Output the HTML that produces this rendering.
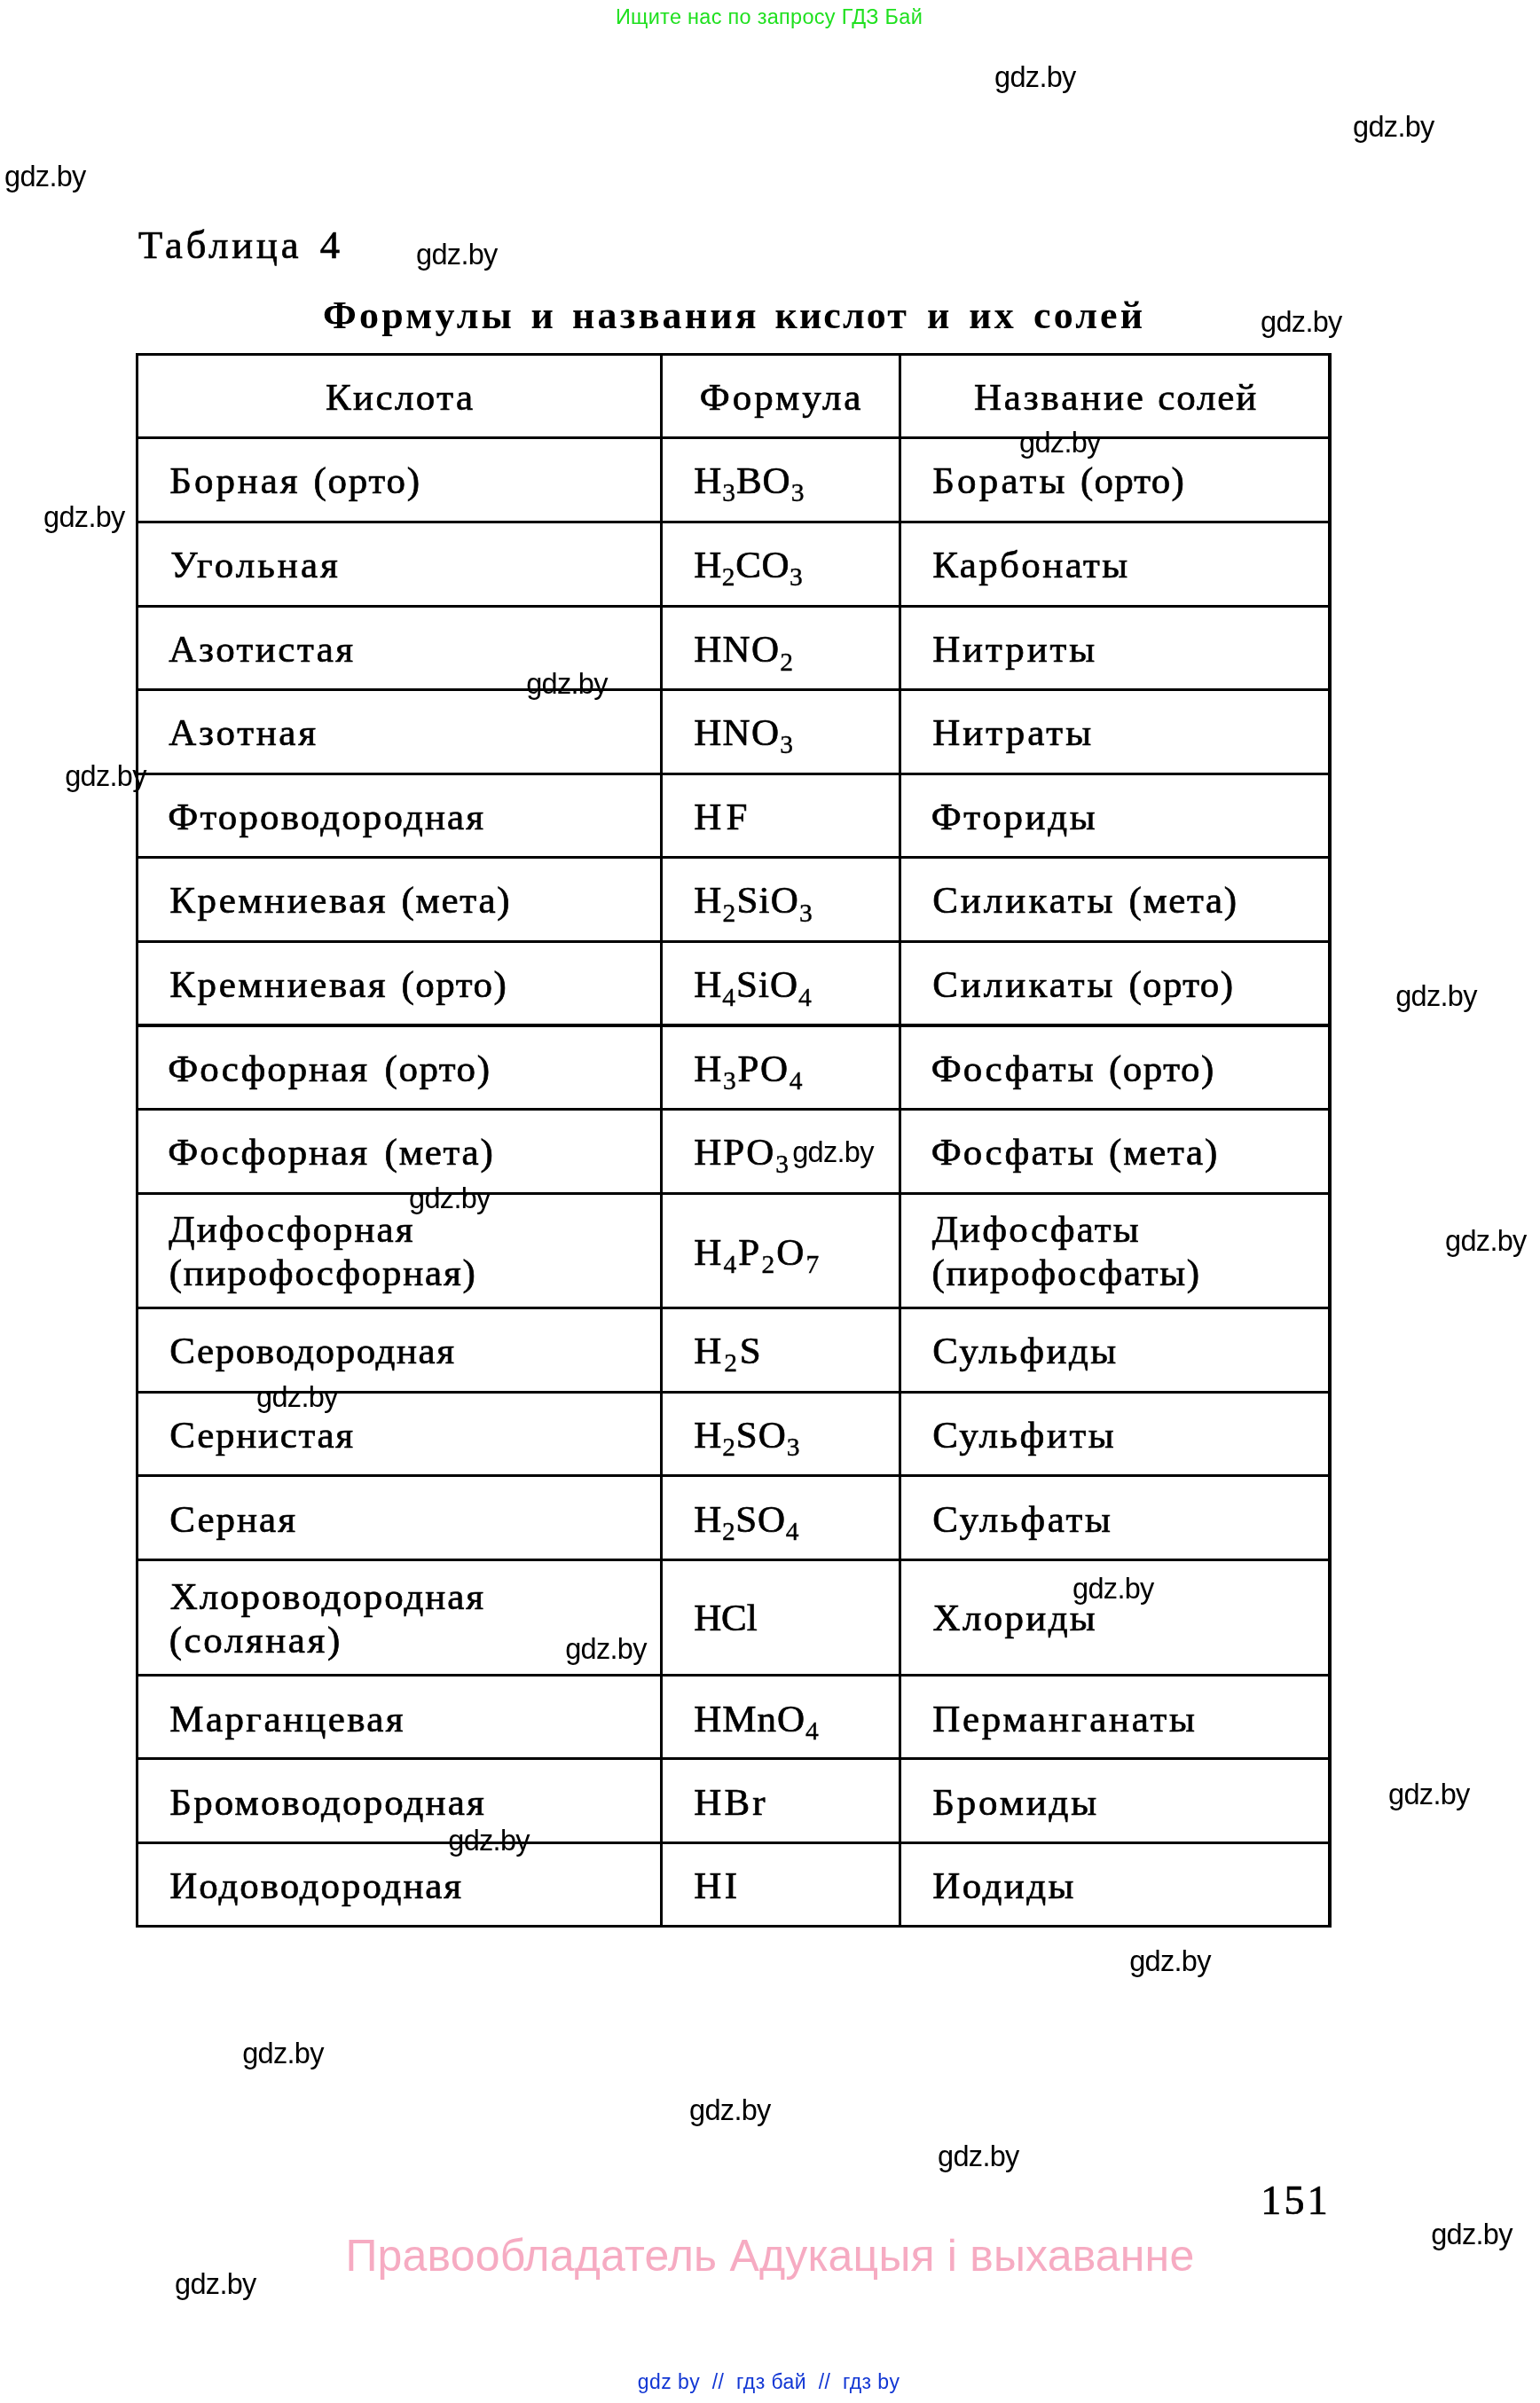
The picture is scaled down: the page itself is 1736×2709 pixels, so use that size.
<!DOCTYPE html>
<html lang="ru"><head><meta charset="utf-8"><title>Таблица 4</title>
<style>
html,body{margin:0;padding:0;background:#fff;}
body{width:1736px;height:2709px;position:relative;overflow:hidden;font-family:"Liberation Serif", serif;}
.t{position:absolute;white-space:pre;height:80px;line-height:80px;margin:0;padding:0;-webkit-text-stroke:0.7px #000;}
#tx{position:absolute;left:0;top:0;width:1736px;height:2709px;will-change:transform;}
.s{font-size:29.5px;position:relative;top:9.3px;line-height:0;-webkit-text-stroke:0.4px #000;}
.ln{position:absolute;background:#000;}
.sans{font-family:"Liberation Sans", sans-serif;-webkit-text-stroke:0;}
</style></head><body>
<div class="ln" style="left:153px;top:398px;width:1348px;height:3px"></div>
<div class="ln" style="left:153px;top:492px;width:1348px;height:3px"></div>
<div class="ln" style="left:153px;top:587px;width:1348px;height:3px"></div>
<div class="ln" style="left:153px;top:682px;width:1348px;height:3px"></div>
<div class="ln" style="left:153px;top:776px;width:1348px;height:3px"></div>
<div class="ln" style="left:153px;top:871px;width:1348px;height:3px"></div>
<div class="ln" style="left:153px;top:965px;width:1348px;height:3px"></div>
<div class="ln" style="left:153px;top:1060px;width:1348px;height:3px"></div>
<div class="ln" style="left:153px;top:1154px;width:1348px;height:4px"></div>
<div class="ln" style="left:153px;top:1249px;width:1348px;height:3px"></div>
<div class="ln" style="left:153px;top:1344px;width:1348px;height:3px"></div>
<div class="ln" style="left:153px;top:1473px;width:1348px;height:3px"></div>
<div class="ln" style="left:153px;top:1568px;width:1348px;height:3px"></div>
<div class="ln" style="left:153px;top:1662px;width:1348px;height:3px"></div>
<div class="ln" style="left:153px;top:1757px;width:1348px;height:3px"></div>
<div class="ln" style="left:153px;top:1887px;width:1348px;height:3px"></div>
<div class="ln" style="left:153px;top:1981px;width:1348px;height:3px"></div>
<div class="ln" style="left:153px;top:2076px;width:1348px;height:3px"></div>
<div class="ln" style="left:153px;top:2170px;width:1348px;height:3px"></div>
<div class="ln" style="left:153px;top:398px;width:3px;height:1775px"></div>
<div class="ln" style="left:744px;top:398px;width:3px;height:1775px"></div>
<div class="ln" style="left:1013px;top:398px;width:3px;height:1775px"></div>
<div class="ln" style="left:1497px;top:398px;width:4px;height:1775px"></div>
<div id="tx">
<div class="t sans" style="left:693.90px;top:-21.10px;font-size:23.5px;letter-spacing:0.284px;color:#1fe01f;">Ищите нас по запросу ГДЗ Бай</div>
<div class="t" style="left:156.05px;top:236.00px;font-size:44.5px;letter-spacing:3.918px;">Таблица</div>
<div class="t" style="left:360.65px;top:236.00px;font-size:44.5px;letter-spacing:0.000px;">4</div>
<div class="t" style="left:364.00px;top:315.70px;font-size:44px;letter-spacing:3.241px;font-weight:bold;-webkit-text-stroke:0;">Формулы</div>
<div class="t" style="left:598.40px;top:315.70px;font-size:44px;letter-spacing:0.000px;font-weight:bold;-webkit-text-stroke:0;">и</div>
<div class="t" style="left:645.10px;top:315.70px;font-size:44px;letter-spacing:3.172px;font-weight:bold;-webkit-text-stroke:0;">названия</div>
<div class="t" style="left:873.50px;top:315.70px;font-size:44px;letter-spacing:2.072px;font-weight:bold;-webkit-text-stroke:0;">кислот</div>
<div class="t" style="left:1045.10px;top:315.70px;font-size:44px;letter-spacing:0.000px;font-weight:bold;-webkit-text-stroke:0;">и</div>
<div class="t" style="left:1092.30px;top:315.70px;font-size:44px;letter-spacing:3.148px;font-weight:bold;-webkit-text-stroke:0;">их</div>
<div class="t" style="left:1165.00px;top:315.70px;font-size:44px;letter-spacing:3.159px;font-weight:bold;-webkit-text-stroke:0;">солей</div>
<div class="t" style="left:366.95px;top:408.00px;font-size:43px;letter-spacing:2.419px;">Кислота</div>
<div class="t" style="left:191.35px;top:501.90px;font-size:43px;letter-spacing:2.942px;">Борная</div>
<div class="t" style="left:353.55px;top:501.90px;font-size:43px;letter-spacing:1.725px;">(орто)</div>
<div class="t" style="left:192.35px;top:596.90px;font-size:43px;letter-spacing:3.053px;">Угольная</div>
<div class="t" style="left:190.35px;top:692.30px;font-size:43px;letter-spacing:2.499px;">Азотистая</div>
<div class="t" style="left:190.35px;top:786.20px;font-size:43px;letter-spacing:2.699px;">Азотная</div>
<div class="t" style="left:189.35px;top:881.20px;font-size:43px;letter-spacing:2.130px;">Фтороводородная</div>
<div class="t" style="left:191.35px;top:975.30px;font-size:43px;letter-spacing:2.566px;">Кремниевая</div>
<div class="t" style="left:452.45px;top:975.30px;font-size:43px;letter-spacing:1.756px;">(мета)</div>
<div class="t" style="left:191.35px;top:1070.30px;font-size:43px;letter-spacing:2.566px;">Кремниевая</div>
<div class="t" style="left:452.45px;top:1070.30px;font-size:43px;letter-spacing:1.505px;">(орто)</div>
<div class="t" style="left:189.35px;top:1164.50px;font-size:43px;letter-spacing:1.961px;">Фосфорная</div>
<div class="t" style="left:433.55px;top:1164.50px;font-size:43px;letter-spacing:1.525px;">(орто)</div>
<div class="t" style="left:189.35px;top:1259.00px;font-size:43px;letter-spacing:1.961px;">Фосфорная</div>
<div class="t" style="left:433.55px;top:1259.00px;font-size:43px;letter-spacing:1.776px;">(мета)</div>
<div class="t" style="left:190.35px;top:1346.40px;font-size:43px;letter-spacing:1.995px;">Дифосфорная</div>
<div class="t" style="left:190.65px;top:1395.00px;font-size:43px;letter-spacing:1.763px;">(пирофосфорная)</div>
<div class="t" style="left:191.35px;top:1483.20px;font-size:43px;letter-spacing:1.548px;">Сероводородная</div>
<div class="t" style="left:191.35px;top:1578.20px;font-size:43px;letter-spacing:1.712px;">Сернистая</div>
<div class="t" style="left:191.35px;top:1672.80px;font-size:43px;letter-spacing:1.982px;">Серная</div>
<div class="t" style="left:191.65px;top:1759.60px;font-size:43px;letter-spacing:1.943px;">Хлороводородная</div>
<div class="t" style="left:190.65px;top:1809.10px;font-size:43px;letter-spacing:2.606px;">(соляная)</div>
<div class="t" style="left:191.35px;top:1897.70px;font-size:43px;letter-spacing:2.403px;">Марганцевая</div>
<div class="t" style="left:191.35px;top:1991.50px;font-size:43px;letter-spacing:2.117px;">Бромоводородная</div>
<div class="t" style="left:191.35px;top:2085.90px;font-size:43px;letter-spacing:1.917px;">Иодоводородная</div>
<div class="t" style="left:788.85px;top:408.00px;font-size:43px;letter-spacing:2.983px;">Формула</div>
<div class="t" style="left:782.15px;top:501.90px;font-size:43px;letter-spacing:0.991px;">H<span class="s">3</span>BO<span class="s">3</span></div>
<div class="t" style="left:782.15px;top:596.90px;font-size:43px;letter-spacing:0.591px;">H<span class="s">2</span>CO<span class="s">3</span></div>
<div class="t" style="left:782.15px;top:692.30px;font-size:43px;letter-spacing:1.347px;">HNO<span class="s">2</span></div>
<div class="t" style="left:782.15px;top:786.20px;font-size:43px;letter-spacing:1.347px;">HNO<span class="s">3</span></div>
<div class="t" style="left:782.15px;top:881.20px;font-size:43px;letter-spacing:5.347px;">HF</div>
<div class="t" style="left:782.15px;top:975.30px;font-size:43px;letter-spacing:1.216px;">H<span class="s">2</span>SiO<span class="s">3</span></div>
<div class="t" style="left:782.15px;top:1070.30px;font-size:43px;letter-spacing:1.016px;">H<span class="s">4</span>SiO<span class="s">4</span></div>
<div class="t" style="left:782.15px;top:1164.50px;font-size:43px;letter-spacing:1.732px;">H<span class="s">3</span>PO<span class="s">4</span></div>
<div class="t" style="left:782.15px;top:1259.00px;font-size:43px;letter-spacing:2.060px;">HPO<span class="s">3</span></div>
<div class="t" style="left:782.15px;top:1371.50px;font-size:43px;letter-spacing:2.176px;">H<span class="s">4</span>P<span class="s">2</span>O<span class="s">7</span></div>
<div class="t" style="left:782.15px;top:1483.20px;font-size:43px;letter-spacing:2.948px;">H<span class="s">2</span>S</div>
<div class="t" style="left:782.15px;top:1578.20px;font-size:43px;letter-spacing:0.932px;">H<span class="s">2</span>SO<span class="s">3</span></div>
<div class="t" style="left:782.15px;top:1672.80px;font-size:43px;letter-spacing:0.682px;">H<span class="s">2</span>SO<span class="s">4</span></div>
<div class="t" style="left:782.15px;top:1783.70px;font-size:43px;letter-spacing:-0.117px;">HCl</div>
<div class="t" style="left:782.15px;top:1897.70px;font-size:43px;letter-spacing:1.015px;">HMnO<span class="s">4</span></div>
<div class="t" style="left:782.15px;top:1991.50px;font-size:43px;letter-spacing:3.233px;">HBr</div>
<div class="t" style="left:782.15px;top:2085.90px;font-size:43px;letter-spacing:3.447px;">HI</div>
<div class="t" style="left:1097.95px;top:408.00px;font-size:43px;letter-spacing:2.833px;">Название</div>
<div class="t" style="left:1305.25px;top:408.00px;font-size:43px;letter-spacing:1.859px;">солей</div>
<div class="t" style="left:1051.15px;top:501.90px;font-size:43px;letter-spacing:3.189px;">Бораты</div>
<div class="t" style="left:1217.95px;top:501.90px;font-size:43px;letter-spacing:1.225px;">(орто)</div>
<div class="t" style="left:1051.15px;top:596.90px;font-size:43px;letter-spacing:2.406px;">Карбонаты</div>
<div class="t" style="left:1051.15px;top:692.30px;font-size:43px;letter-spacing:2.903px;">Нитриты</div>
<div class="t" style="left:1051.15px;top:786.20px;font-size:43px;letter-spacing:3.059px;">Нитраты</div>
<div class="t" style="left:1049.65px;top:881.20px;font-size:43px;letter-spacing:2.686px;">Фториды</div>
<div class="t" style="left:1051.15px;top:975.30px;font-size:43px;letter-spacing:3.019px;">Силикаты</div>
<div class="t" style="left:1272.45px;top:975.30px;font-size:43px;letter-spacing:1.676px;">(мета)</div>
<div class="t" style="left:1051.15px;top:1070.30px;font-size:43px;letter-spacing:3.019px;">Силикаты</div>
<div class="t" style="left:1272.45px;top:1070.30px;font-size:43px;letter-spacing:1.365px;">(орто)</div>
<div class="t" style="left:1049.65px;top:1164.50px;font-size:43px;letter-spacing:2.204px;">Фосфаты</div>
<div class="t" style="left:1250.05px;top:1164.50px;font-size:43px;letter-spacing:1.485px;">(орто)</div>
<div class="t" style="left:1049.65px;top:1259.00px;font-size:43px;letter-spacing:2.204px;">Фосфаты</div>
<div class="t" style="left:1250.05px;top:1259.00px;font-size:43px;letter-spacing:1.776px;">(мета)</div>
<div class="t" style="left:1050.65px;top:1346.40px;font-size:43px;letter-spacing:2.136px;">Дифосфаты</div>
<div class="t" style="left:1050.55px;top:1395.00px;font-size:43px;letter-spacing:1.691px;">(пирофосфаты)</div>
<div class="t" style="left:1051.15px;top:1483.20px;font-size:43px;letter-spacing:2.437px;">Сульфиды</div>
<div class="t" style="left:1051.15px;top:1578.20px;font-size:43px;letter-spacing:2.521px;">Сульфиты</div>
<div class="t" style="left:1051.15px;top:1672.80px;font-size:43px;letter-spacing:2.698px;">Сульфаты</div>
<div class="t" style="left:1051.55px;top:1783.70px;font-size:43px;letter-spacing:2.317px;">Хлориды</div>
<div class="t" style="left:1051.15px;top:1897.70px;font-size:43px;letter-spacing:2.764px;">Перманганаты</div>
<div class="t" style="left:1051.15px;top:1991.50px;font-size:43px;letter-spacing:2.871px;">Бромиды</div>
<div class="t" style="left:1051.15px;top:2085.90px;font-size:43px;letter-spacing:2.464px;">Иодиды</div>
<div class="t" style="left:1421.15px;top:2440.80px;font-size:46px;letter-spacing:3.300px;">151</div>
<div class="t sans" style="left:389.50px;top:2502.80px;font-size:50px;letter-spacing:0.178px;color:#f6abc2;">Правообладатель Адукацыя і выхаванне</div>
<div class="t sans" style="left:718.80px;top:2644.70px;font-size:23px;letter-spacing:0.428px;color:#1237d4;">gdz by  //  гдз бай  //  гдз by</div>
<div class="t sans" style="left:1121.10px;top:47.00px;font-size:32.5px;letter-spacing:-0.701px;">gdz.by</div>
<div class="t sans" style="left:1525.10px;top:102.80px;font-size:32.5px;letter-spacing:-0.701px;">gdz.by</div>
<div class="t sans" style="left:5.10px;top:158.80px;font-size:32.5px;letter-spacing:-0.701px;">gdz.by</div>
<div class="t sans" style="left:469.10px;top:246.80px;font-size:32.5px;letter-spacing:-0.701px;">gdz.by</div>
<div class="t sans" style="left:1421.10px;top:322.80px;font-size:32.5px;letter-spacing:-0.701px;">gdz.by</div>
<div class="t sans" style="left:1149.10px;top:458.80px;font-size:32.5px;letter-spacing:-0.701px;">gdz.by</div>
<div class="t sans" style="left:49.10px;top:542.80px;font-size:32.5px;letter-spacing:-0.701px;">gdz.by</div>
<div class="t sans" style="left:593.20px;top:730.80px;font-size:32.5px;letter-spacing:-0.701px;">gdz.by</div>
<div class="t sans" style="left:73.20px;top:834.80px;font-size:32.5px;letter-spacing:-0.701px;">gdz.by</div>
<div class="t sans" style="left:1573.20px;top:1082.80px;font-size:32.5px;letter-spacing:-0.701px;">gdz.by</div>
<div class="t sans" style="left:893.20px;top:1258.80px;font-size:32.5px;letter-spacing:-0.701px;">gdz.by</div>
<div class="t sans" style="left:461.10px;top:1310.80px;font-size:32.5px;letter-spacing:-0.701px;">gdz.by</div>
<div class="t sans" style="left:1629.10px;top:1358.80px;font-size:32.5px;letter-spacing:-0.701px;">gdz.by</div>
<div class="t sans" style="left:289.10px;top:1534.80px;font-size:32.5px;letter-spacing:-0.701px;">gdz.by</div>
<div class="t sans" style="left:1209.10px;top:1750.80px;font-size:32.5px;letter-spacing:-0.701px;">gdz.by</div>
<div class="t sans" style="left:637.20px;top:1818.80px;font-size:32.5px;letter-spacing:-0.701px;">gdz.by</div>
<div class="t sans" style="left:1565.10px;top:1982.80px;font-size:32.5px;letter-spacing:-0.701px;">gdz.by</div>
<div class="t sans" style="left:505.30px;top:2034.80px;font-size:32.5px;letter-spacing:-0.701px;">gdz.by</div>
<div class="t sans" style="left:1273.20px;top:2170.80px;font-size:32.5px;letter-spacing:-0.701px;">gdz.by</div>
<div class="t sans" style="left:273.20px;top:2274.80px;font-size:32.5px;letter-spacing:-0.701px;">gdz.by</div>
<div class="t sans" style="left:777.10px;top:2338.80px;font-size:32.5px;letter-spacing:-0.701px;">gdz.by</div>
<div class="t sans" style="left:1057.10px;top:2390.80px;font-size:32.5px;letter-spacing:-0.701px;">gdz.by</div>
<div class="t sans" style="left:1613.20px;top:2478.80px;font-size:32.5px;letter-spacing:-0.701px;">gdz.by</div>
<div class="t sans" style="left:197.10px;top:2534.80px;font-size:32.5px;letter-spacing:-0.701px;">gdz.by</div>
</div>
</body></html>
